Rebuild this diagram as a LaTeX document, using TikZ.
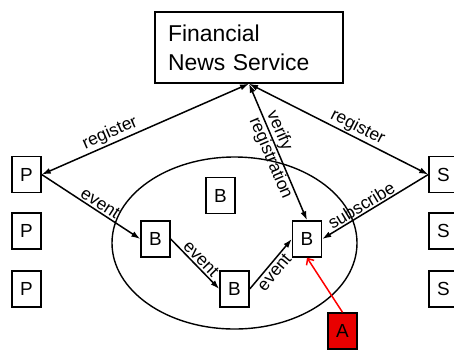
\documentclass[tikz,border=0pt]{standalone}
\usepackage{fontspec}
\setmainfont{Liberation Sans}
\usetikzlibrary{arrows.meta,shapes.geometric}

\definecolor{attackred}{RGB}{232,0,0}

\tikzset{
  box/.style={draw, line width=1.4bp, fill=white, minimum width=29bp,
    minimum height=36bp, inner sep=0pt, font=\fontsize{19}{22}\selectfont},
  lbl/.style={font=\fontsize{17.5}{19}\selectfont, inner sep=1.5bp, sloped},
  flow/.style={line width=1.5bp, -{Latex[length=9bp,width=6bp]}},
  both/.style={line width=1.5bp, {Latex[length=9bp,width=6bp]}-{Latex[length=9bp,width=6bp]}},
  attack/.style={line width=1.5bp, draw=red, -{Straight Barb[length=5bp,width=9bp]}}
}

\begin{document}
\begin{tikzpicture}[x=1bp, y=-1bp]
\useasboundingbox (0,0) rectangle (454,349);

% broker network
\node[draw, line width=1.4bp, ellipse, minimum width=245bp, minimum height=172bp,
  inner sep=0pt] (net) at (234.5,243) {};

% news service
\node[draw, line width=1.4bp, minimum height=71bp, text width=162bp, inner xsep=13bp,
  align=left, font=\fontsize{23}{29}\selectfont] (fns) at (249,47.5)
  {Financial\\News Service};

% publishers
\node[box] (p1) at (26.5,174.5) {P};
\node[box] (p2) at (26.5,231) {P};
\node[box] (p3) at (26.5,289) {P};

% subscribers
\node[box] (s1) at (443.5,174.5) {S};
\node[box] (s2) at (443.5,231) {S};
\node[box] (s3) at (443.5,289) {S};

% brokers
\node[box] (bt) at (220.5,195.5) {B};
\node[box] (b1) at (155.5,239) {B};
\node[box] (b3) at (234.5,289) {B};
\node[box] (b4) at (307,239) {B};

% attacker
\node[box, fill=attackred] (a) at (342.5,331) {A};

% registration
\draw[both] (p1.east) -- node[lbl, pos=.35, above] {register} (fns.south);
\draw[both] (fns.south) -- node[lbl, pos=.58, above] {register} (s1.west);
\draw[both] (fns.south) -- node[lbl, pos=.52, align=left] {verify\\registration} (b4.north);

% event routing
\draw[flow] (p1.east) -- node[lbl, pos=.55, above] {event} (b1.west);
\draw[flow] (b1.east) -- node[lbl, pos=.51, above] {event} (b3.west);
\draw[flow] (b3.east) -- node[lbl, pos=.44, below] {event} (b4.west);
\draw[flow] (s1.west) -- node[lbl, pos=.59, above] {subscribe} (b4.east);

% attack
\draw[attack] (a.north) -- (b4.south);
\end{tikzpicture}
\end{document}
